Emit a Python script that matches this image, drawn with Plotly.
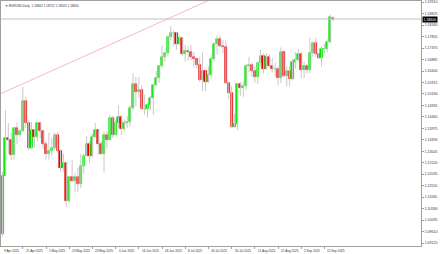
import plotly.graph_objects as go
import pandas as pd

# ---------------- data ----------------
dates = pd.bdate_range("2025-04-09", "2025-09-17").strftime("%Y-%m-%d").tolist()

opens = [1.0962,1.0952,1.1197,1.1357,1.1350,1.1285,1.1398,1.1370,1.1388,1.1513,
         1.1420,1.1315,1.1390,1.1363,1.1420,1.1385,1.1330,1.1290,1.1300,1.1315,
         1.1370,1.1300,1.1230,1.1250,1.1090,1.1190,1.1175,1.1190,1.1160,1.1240,
         1.1280,1.1330,1.1280,1.1360,1.1390,1.1330,1.1290,1.1370,1.1350,1.1440,
         1.1370,1.1420,1.1445,1.1395,1.1420,1.1425,1.1485,1.1585,1.1550,1.1560,
         1.1480,1.1480,1.1495,1.1525,1.1580,1.1610,1.1660,1.1700,1.1718,1.1785,
         1.1800,1.1800,1.1755,1.1780,1.1710,1.1725,1.1720,1.1700,1.1690,1.1665,
         1.1600,1.1640,1.1595,1.1625,1.1690,1.1755,1.1775,1.1745,1.1740,1.1590,
         1.1545,1.1405,1.1415,1.1585,1.1570,1.1575,1.1660,1.1665,1.1640,1.1615,
         1.1675,1.1705,1.1650,1.1700,1.1660,1.1650,1.1650,1.1610,1.1720,1.1620,
         1.1640,1.1605,1.1680,1.1685,1.1710,1.1645,1.1660,1.1645,1.1715,1.1760,
         1.1710,1.1695,1.1735,1.1735,1.1762,1.18662]
highs = [1.1100,1.1214,1.1474,1.1420,1.1379,1.1401,1.1422,1.1392,1.1573,1.1530,
         1.1430,1.1424,1.1395,1.1425,1.1425,1.1390,1.1345,1.1380,1.1358,1.1380,
         1.1380,1.1310,1.1290,1.1255,1.1195,1.1265,1.1210,1.1230,1.1290,1.1290,
         1.1365,1.1345,1.1375,1.1420,1.1390,1.1345,1.1385,1.1385,1.1455,1.1450,
         1.1435,1.1495,1.1455,1.1435,1.1450,1.1495,1.1630,1.1615,1.1615,1.1580,
         1.1540,1.1500,1.1535,1.1585,1.1640,1.1665,1.1745,1.1720,1.1790,1.1830,
         1.1810,1.1805,1.1790,1.1785,1.1750,1.1745,1.1750,1.1720,1.1690,1.1700,
         1.1720,1.1640,1.1660,1.1700,1.1760,1.1790,1.1790,1.1770,1.1770,1.1595,
         1.1575,1.1460,1.1590,1.1595,1.1595,1.1670,1.1700,1.1675,1.1660,1.1680,
         1.1730,1.1715,1.1715,1.1710,1.1695,1.1675,1.1660,1.1740,1.1720,1.1660,
         1.1660,1.1690,1.1720,1.1735,1.1720,1.1680,1.1670,1.1780,1.1765,1.1780,
         1.1715,1.1745,1.1755,1.1770,1.1878,1.18722]
lows = [1.0890,1.0940,1.1196,1.1290,1.1262,1.1265,1.1330,1.1360,1.1383,1.1400,
        1.1307,1.1310,1.1317,1.1342,1.1355,1.1310,1.1265,1.1265,1.1280,1.1305,
        1.1295,1.1215,1.1215,1.1065,1.1085,1.1170,1.1130,1.1130,1.1145,1.1205,
        1.1280,1.1250,1.1275,1.1360,1.1285,1.1285,1.1210,1.1315,1.1350,1.1357,
        1.1370,1.1400,1.1370,1.1385,1.1400,1.1405,1.1475,1.1490,1.1530,1.1475,
        1.1455,1.1445,1.1475,1.1455,1.1575,1.1590,1.1655,1.1680,1.1705,1.1770,
        1.1745,1.1730,1.1750,1.1705,1.1680,1.1685,1.1685,1.1655,1.1650,1.1595,
        1.1555,1.1555,1.1590,1.1615,1.1680,1.1710,1.1740,1.1715,1.1585,1.1520,
        1.1400,1.1400,1.1390,1.1535,1.1530,1.1560,1.1635,1.1615,1.1590,1.1585,
        1.1660,1.1630,1.1645,1.1655,1.1635,1.1615,1.1580,1.1590,1.1615,1.1575,
        1.1575,1.1600,1.1650,1.1680,1.1610,1.1610,1.1630,1.1630,1.1700,1.1700,
        1.1690,1.1660,1.1715,1.1720,1.1758,1.18505]
closes = [1.0952,1.1197,1.1357,1.1350,1.1285,1.1398,1.1370,1.1388,1.1513,1.1420,
          1.1315,1.1390,1.1363,1.1420,1.1385,1.1330,1.1290,1.1300,1.1315,1.1370,
          1.1300,1.1230,1.1250,1.1090,1.1190,1.1175,1.1190,1.1160,1.1240,1.1280,
          1.1330,1.1280,1.1360,1.1390,1.1330,1.1290,1.1370,1.1350,1.1440,1.1370,
          1.1420,1.1445,1.1395,1.1420,1.1425,1.1485,1.1585,1.1550,1.1560,1.1480,
          1.1480,1.1495,1.1525,1.1580,1.1610,1.1660,1.1700,1.1718,1.1785,1.1800,
          1.1800,1.1755,1.1780,1.1710,1.1725,1.1720,1.1700,1.1690,1.1665,1.1600,
          1.1640,1.1595,1.1625,1.1690,1.1755,1.1775,1.1745,1.1740,1.1590,1.1545,
          1.1405,1.1415,1.1585,1.1570,1.1575,1.1660,1.1665,1.1640,1.1615,1.1675,
          1.1705,1.1650,1.1700,1.1660,1.1650,1.1650,1.1610,1.1720,1.1620,1.1640,
          1.1605,1.1680,1.1685,1.1710,1.1645,1.1660,1.1645,1.1715,1.1760,1.1710,
          1.1695,1.1735,1.1735,1.1762,1.1867,1.18600]

x_label_dates = ["2025-04-09","2025-04-21","2025-05-01","2025-05-13","2025-05-23",
                 "2025-06-04","2025-06-16","2025-06-26","2025-07-08","2025-07-18",
                 "2025-07-30","2025-08-11","2025-08-21","2025-09-02","2025-09-12"]
x_label_text = ["9 Apr 2025","21 Apr 2025","1 May 2025","13 May 2025","23 May 2025",
                "4 Jun 2025","16 Jun 2025","26 Jun 2025","8 Jul 2025","18 Jul 2025",
                "30 Jul 2025","11 Aug 2025","21 Aug 2025","2 Sep 2025","12 Sep 2025"]

y_ticks = [1.09125,1.09610,1.10095,1.10580,1.11065,1.11550,1.12035,1.12520,1.13005,
           1.13490,1.13975,1.14460,1.14945,1.15430,1.15915,1.16400,1.16885,1.17370,
           1.17855,1.18340,1.18825,1.19310]

trend_dates = ["2025-04-09", "2025-07-30"]
trend_prices = [1.1542, 1.1982]

symbol_title = "EURUSD,Daily"

# ---------------- figure ----------------
idx = list(range(len(dates)))
pos = {d: i for i, d in enumerate(dates)}

GREEN = "#00e600"
RED = "#e60000"
FONT = "Liberation Sans"
XR = [0.48, 145.3]

wx, wy = [], []
for i, h, l in zip(idx, highs, lows):
    wx += [i, i, None]
    wy += [l, h, None]

fig = go.Figure()
fig.add_trace(go.Scatter(x=wx, y=wy, mode="lines",
                         line=dict(color="#c8c8c8", width=1),
                         hoverinfo="skip", showlegend=False))

colors = [GREEN if c >= o else RED for o, c in zip(opens, closes)]
fig.add_trace(go.Bar(x=idx,
                     base=[min(o, c) for o, c in zip(opens, closes)],
                     y=[abs(c - o) for o, c in zip(opens, closes)],
                     width=0.72,
                     marker=dict(color=colors, line=dict(color=colors, width=0.6)),
                     customdata=list(zip(dates, opens, highs, lows, closes)),
                     hovertemplate="%{customdata[0]}<br>O %{customdata[1]}<br>H %{customdata[2]}"
                                   "<br>L %{customdata[3]}<br>C %{customdata[4]}<extra></extra>",
                     showlegend=False))

fig.add_trace(go.Scatter(x=[pos[d] for d in trend_dates], y=trend_prices, mode="lines",
                         line=dict(color="#f4a8a8", width=0.8),
                         hoverinfo="skip", showlegend=False))

last_close = closes[-1]
fig.add_shape(type="line", xref="paper", x0=0, x1=1, yref="y", y0=last_close, y1=last_close,
              line=dict(color="#c0c0c0", width=1))

for d, t in zip(x_label_dates, x_label_text):
    xp = (pos[d] - XR[0]) / (XR[1] - XR[0])
    fig.add_annotation(x=max(xp, 0), xref="paper", y=0, yref="paper", yanchor="top",
                       xanchor="left", text=t, showarrow=False,
                       font=dict(size=3.1, color="#333333", family=FONT),
                       yshift=-1, xshift=1)

fig.add_annotation(x=1, xref="paper", y=last_close, yref="y", xanchor="left",
                   text=f"{last_close:.5f}", showarrow=False,
                   font=dict(size=3.5, color="white", family=FONT), bgcolor="black",
                   borderpad=0.5, xshift=1)

title_txt = "▼ " + symbol_title + "  " + " ".join(f"{v:.5f}" for v in
                                                   (opens[-1], highs[-1], lows[-1], closes[-1]))
fig.add_annotation(x=0, xref="paper", y=1, yref="paper", xanchor="left", yanchor="top",
                   text=title_txt, showarrow=False,
                   font=dict(size=3.1, color="#333333", family=FONT),
                   xshift=2, yshift=-1)

fig.update_layout(
    width=440, height=254,
    margin=dict(l=1, r=19, t=1, b=8),
    paper_bgcolor="white", plot_bgcolor="white",
    font=dict(family=FONT, size=3.5, color="#333333"),
    bargap=0,
    xaxis=dict(range=XR, showgrid=False, zeroline=False,
               showline=True, linecolor="#a0a0a0", linewidth=1, mirror=True,
               tickvals=[pos[d] for d in x_label_dates], ticktext=[""] * len(x_label_dates),
               ticks="outside", ticklen=2, tickcolor="#a0a0a0"),
    yaxis=dict(range=[1.08998, 1.19362], side="right", showgrid=False, zeroline=False,
               showline=True, linecolor="#a0a0a0", linewidth=1, mirror=True,
               tickvals=y_ticks, ticktext=[f"{v:.5f}" for v in y_ticks],
               ticks="outside", ticklen=2, tickcolor="#a0a0a0",
               tickfont=dict(size=3.5, color="#333333", family=FONT)),
)

fig.write_html("out.html")
